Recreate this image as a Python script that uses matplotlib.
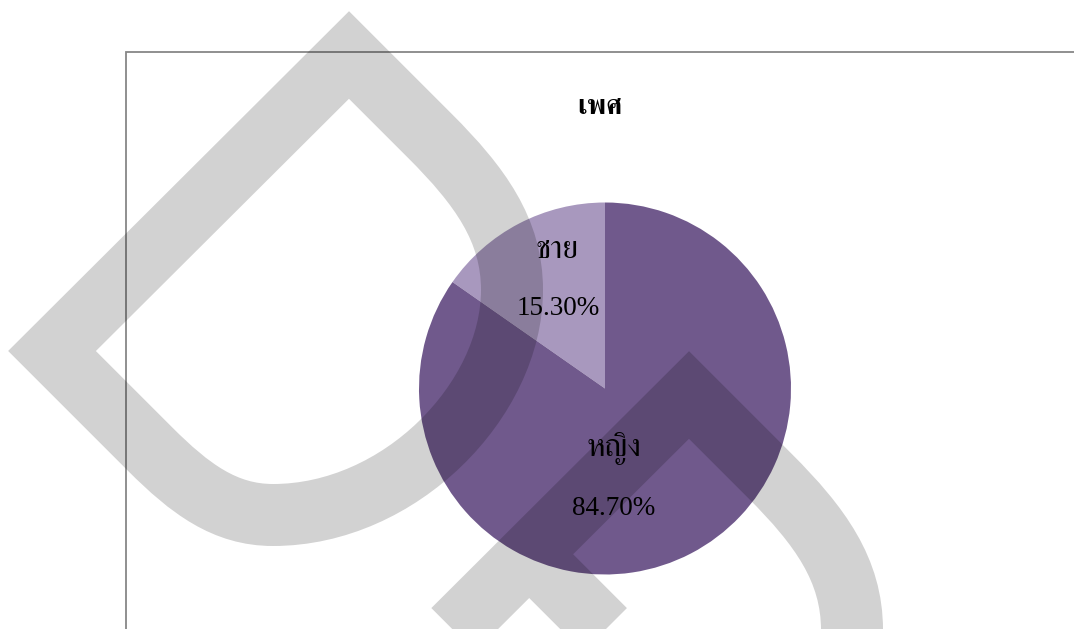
# -*- coding: utf-8 -*-

import matplotlib
matplotlib.use('Agg')
import matplotlib.pyplot as plt
from matplotlib.path import Path
from matplotlib.patches import PathPatch

# ข้อมูล
categories = ['ชาย', 'หญิง']
percent = [15.3, 84.7]
colors = ['#a898be', '#70598c']
title = 'เพศ'

W, H = 1074, 629


def drop_path(dx, dy):
    """เส้นกลางของลายน้ำรูปหยดน้ำ (พิกัดพิกเซล)
    เริ่มที่กลางด้านบนซ้าย เพื่อให้มุมแหลมยังเป็นมุมแหลมเมื่อถูกตัดขอบภาพ"""
    pts = [(200.5, 203), (349, 55), (430, 136),
           (480, 186), (512, 230), (512, 290),
           (512, 400), (400, 515), (273, 515),
           (225, 515), (190, 489), (150, 449),
           (52, 351), (200.5, 203)]
    codes = [Path.MOVETO, Path.LINETO, Path.LINETO,
             Path.CURVE4, Path.CURVE4, Path.CURVE4,
             Path.CURVE4, Path.CURVE4, Path.CURVE4,
             Path.CURVE4, Path.CURVE4, Path.CURVE4,
             Path.LINETO, Path.LINETO]
    return [(x + dx, y + dy) for x, y in pts], codes


def main():
    plt.rcParams['font.family'] = ['Liberation Serif', 'FreeSerif']

    fig = plt.figure(figsize=(W / 100, H / 100), dpi=100)

    # กรอบพื้นที่แผนภูมิ
    bg = fig.add_axes([0, 0, 1, 1], zorder=0)
    bg.set_xlim(0, W)
    bg.set_ylim(H, 0)
    bg.axis('off')
    bg.plot([126, 126, W + 10], [H + 10, 51.5, 51.5], color='#878787', lw=1.3,
            solid_joinstyle='miter')

    # แผนภูมิวงกลม
    cx, cy, r = 605, 388.5, 186
    ax = fig.add_axes([(cx - r) / W, (H - cy - r) / H, 2 * r / W, 2 * r / H], zorder=1)
    wedges, texts, autotexts = ax.pie(percent, labels=categories, colors=colors,
                                      startangle=90, counterclock=True,
                                      autopct='%.2f%%', radius=1,
                                      wedgeprops=dict(linewidth=0),
                                      textprops=dict(fontsize=19.5, color='black'))
    ax.set_xlim(-1, 1)
    ax.set_ylim(-1, 1)
    ax.set_aspect('equal')

    label_pos = [(-0.258, 0.742), (0.048, -0.323)]
    pct_pos = [(-0.253, 0.43), (0.048, -0.645)]
    for t, p in zip(texts, label_pos):
        t.set_position(p)
        t.set_ha('center')
        t.set_va('center')
        t.set_fontsize(23)
    for t, p in zip(autotexts, pct_pos):
        t.set_position(p)
        t.set_ha('center')
        t.set_va('center')

    fig.text(600 / W, 1 - 108 / H, title, ha='center', va='center',
             fontsize=19.5, fontweight='bold')

    # ลายน้ำ
    wm = fig.add_axes([0, 0, 1, 1], zorder=2)
    wm.set_xlim(0, W)
    wm.set_ylim(H, 0)
    wm.axis('off')
    verts, codes = [], []
    for dx, dy in [(0, 0), (340, 340)]:
        v, c = drop_path(dx, dy)
        verts += v
        codes += c
    verts += [(529.5, 554.5), (820, 845)]
    codes += [Path.MOVETO, Path.LINETO]
    wm.add_patch(PathPatch(Path(verts, codes), facecolor='none', edgecolor='black',
                           alpha=0.175, lw=62 * 0.72, joinstyle='miter', capstyle='butt'))

    fig.savefig('out.png', dpi=100)


if __name__ == '__main__':
    main()
